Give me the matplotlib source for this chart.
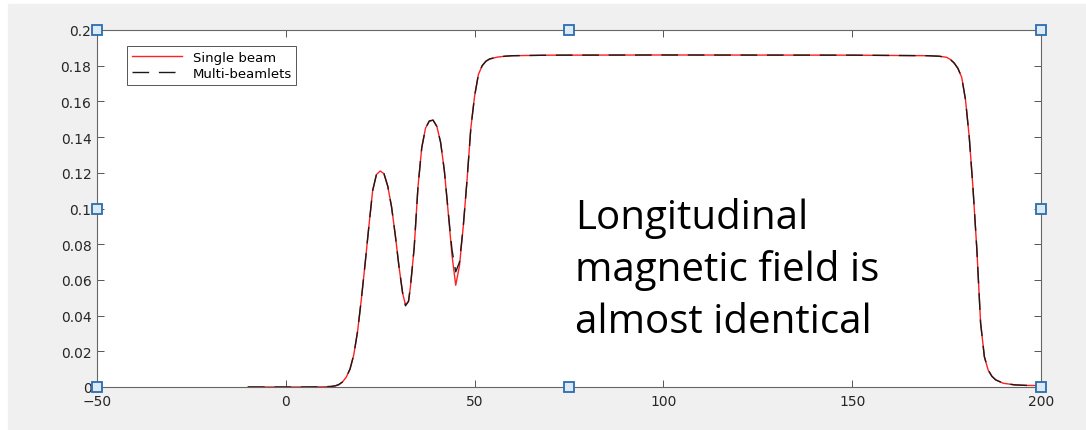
import matplotlib.pyplot as plt
from matplotlib.patches import Rectangle
from matplotlib.ticker import FormatStrFormatter

# longitudinal field along z
z = [-10, 0, 5, 10, 12, 13, 14, 15, 16, 17, 18, 19, 20, 21, 22, 23, 24, 25,
     26, 27, 28, 29, 30, 31, 31.7, 32.5, 33, 34, 35, 36, 37, 38, 39, 40, 41,
     42, 43, 44, 45, 46, 47, 48, 49, 50, 51, 52, 53, 54, 56, 58, 60, 70, 100,
     150, 170, 173, 175, 176, 177, 178, 179, 180, 181, 182, 183, 184, 185,
     186, 187, 188, 190, 193, 196, 200]

single_beam = [0, 0, 0, 0.0001, 0.0003, 0.0006, 0.0013, 0.0028, 0.0055, 0.0100,
               0.0180, 0.0310, 0.0490, 0.0690, 0.0900, 0.1100, 0.1190, 0.1210,
               0.1195, 0.1125, 0.1010, 0.0850, 0.0670, 0.0520, 0.0460, 0.0480,
               0.0560, 0.0780, 0.1120, 0.1340, 0.1450, 0.1490, 0.1495, 0.1460,
               0.1370, 0.1210, 0.0980, 0.0740, 0.0570, 0.0680, 0.0900, 0.1160,
               0.1450, 0.1630, 0.1750, 0.1800, 0.1825, 0.1838, 0.1848, 0.1853,
               0.1856, 0.1859, 0.1860, 0.1859, 0.1856, 0.1853, 0.1847, 0.1835,
               0.1815, 0.1785, 0.1735, 0.1610, 0.1400, 0.1110, 0.0775, 0.0360,
               0.0170, 0.0095, 0.0060, 0.0040, 0.0021, 0.0012, 0.0009, 0.0008]

multi_beamlets = [0, 0, 0, 0.0001, 0.0003, 0.0006, 0.0013, 0.0028, 0.0055, 0.0100,
                  0.0180, 0.0310, 0.0490, 0.0690, 0.0900, 0.1100, 0.1190, 0.1210,
                  0.1195, 0.1125, 0.1010, 0.0850, 0.0670, 0.0515, 0.0455, 0.0480,
                  0.0560, 0.0780, 0.1120, 0.1340, 0.1450, 0.1490, 0.1495, 0.1460,
                  0.1370, 0.1210, 0.0985, 0.0770, 0.0645, 0.0700, 0.0900, 0.1160,
                  0.1450, 0.1630, 0.1750, 0.1800, 0.1825, 0.1838, 0.1848, 0.1853,
                  0.1856, 0.1859, 0.1860, 0.1859, 0.1856, 0.1853, 0.1847, 0.1835,
                  0.1815, 0.1785, 0.1735, 0.1610, 0.1400, 0.1110, 0.0775, 0.0360,
                  0.0170, 0.0095, 0.0060, 0.0040, 0.0021, 0.0012, 0.0009, 0.0008]

xticks = [-50, 0, 50, 100, 150, 200]
yticks = [0, 0.02, 0.04, 0.06, 0.08, 0.1, 0.12, 0.14, 0.16, 0.18, 0.2]
note = ["Longitudinal", "magnetic field is", "almost identical"]

W, H = 1086, 431
fig = plt.figure(figsize=(W / 100, H / 100), dpi=100)
fig.patch.set_facecolor("white")
fig.patches.append(Rectangle((8 / W, 1 - 430 / H), (W - 8) / W, 425 / H,
                             transform=fig.transFigure, color="#f0f0f0", zorder=-5))

ax = fig.add_axes([97 / W, 1 - 388 / H, 944 / W, 357 / H])
ax.plot(z, single_beam, color="#ff2020", lw=1.0, label="Single beam")
ax.plot(z, multi_beamlets, color="#1a1a1a", lw=1.0, dashes=(12, 7), label="Multi-beamlets")

ax.set_xlim(-50, 200)
ax.set_ylim(0, 0.2)
ax.set_xticks(xticks)
ax.set_yticks(yticks)
ax.yaxis.set_major_formatter(FormatStrFormatter("%g"))
ax.tick_params(direction="in", length=5, width=0.7, color="#555555", top=True, right=True,
               labelsize=10, labelcolor="#262626", pad=4)
ax.tick_params(axis="x", pad=5)
for s in ax.spines.values():
    s.set_color("#666666")
    s.set_linewidth(0.8)

leg = ax.legend(loc="upper left", bbox_to_anchor=(0.032, 0.955), borderaxespad=0,
                fontsize=9.5, handlelength=3.8, labelspacing=0.25, handletextpad=0.8,
                borderpad=0.35, fancybox=False, framealpha=1)
leg.get_frame().set_edgecolor("#555555")
leg.get_frame().set_linewidth(0.7)

# selection handles around the axes
hx = [0, 0.5, 1, 0, 1, 0, 0.5, 1]
hy = [1, 1, 1, 0.5, 0.5, 0, 0, 0]
ax.plot(hx, hy, "s", ms=6.5, mfc="#dde9f5", mec="#2a6db0", mew=1.3,
        transform=ax.transAxes, clip_on=False, zorder=10)

for i, line in enumerate(note):
    fig.text(575 / W, 1 - (229 + 52 * i) / H, line, fontsize=29, family="Open Sans",
             va="baseline", ha="left", color="black")

fig.savefig("out.png", dpi=100, facecolor=fig.get_facecolor())
